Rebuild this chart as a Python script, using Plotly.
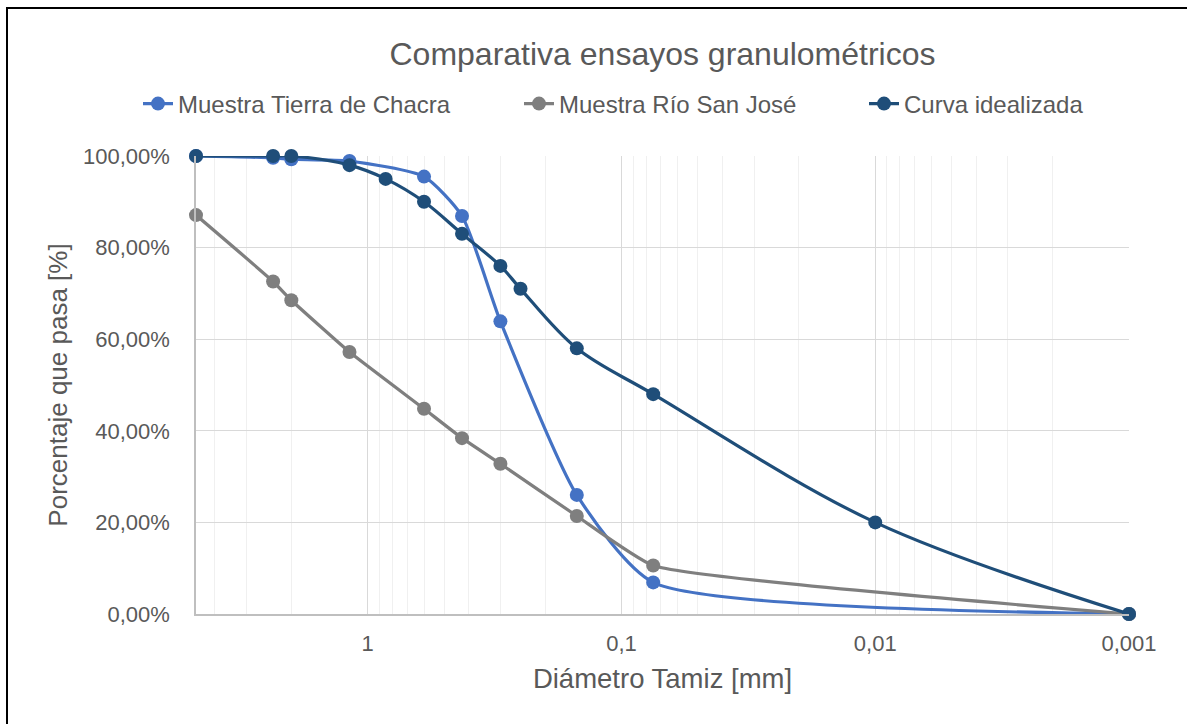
import plotly.graph_objects as go

# ---- data ----
sieve_tierra = [4.75, 2.36, 2.0, 1.18, 0.6, 0.425, 0.3, 0.15, 0.075, 0.001]
pasa_tierra = [100.0, 99.6, 99.3, 98.9, 95.5, 86.9, 63.9, 26.0, 6.9, 0.0]

sieve_rio = [4.75, 2.36, 2.0, 1.18, 0.6, 0.425, 0.3, 0.15, 0.075, 0.001]
pasa_rio = [87.1, 72.6, 68.5, 57.2, 44.8, 38.4, 32.8, 21.4, 10.6, 0.0]

sieve_curva = [4.75, 2.36, 2.0, 1.18, 0.85, 0.6, 0.425, 0.3, 0.25, 0.15, 0.075, 0.01, 0.001]
pasa_curva = [100.0, 100.0, 100.0, 98.0, 95.0, 90.0, 83.0, 76.0, 71.0, 58.0, 48.0, 20.0, 0.0]

series_names = ["Muestra Tierra de Chacra", "Muestra Río San José", "Curva idealizada"]
series_colors = ["#4472C4", "#7F7F7F", "#1F4E79"]
series_smoothing = [0.6, 0.4, 1.0]

x_tickvals = [1, 0.1, 0.01, 0.001]
x_ticktext = ["1", "0,1", "0,01", "0,001"]
y_tickvals = [0, 20, 40, 60, 80, 100]
y_ticktext = ["0,00%", "20,00%", "40,00%", "60,00%", "80,00%", "100,00%"]

minor_vals = [m * 10.0 ** e for e in [0, -1, -2, -3] for m in range(2, 10) if m * 10.0 ** e < 4.75]

FONT = "Liberation Sans, Arial, sans-serif"
TXT = "#595959"

W, H = 1187, 724
L, R, T, B = 196, 58, 156, 110
pw, ph = W - L - R, H - T - B

fig = go.Figure()
legend_ids = ["legend", "legend2", "legend3"]
for xs, ys, name, col, sm, lg in zip([sieve_tierra, sieve_rio, sieve_curva],
                                     [pasa_tierra, pasa_rio, pasa_curva],
                                     series_names, series_colors, series_smoothing, legend_ids):
    fig.add_trace(go.Scatter(
        x=xs, y=ys, name=name, mode="lines+markers",
        line=dict(color=col, width=3.2, shape="spline", smoothing=sm),
        marker=dict(color=col, size=14),
        cliponaxis=False, showlegend=True,
        legend=lg,
    ))

def lg(xpx):
    return dict(x=xpx / W, xref="container", xanchor="left",
                y=1 - 104 / H, yref="container", yanchor="middle",
                orientation="h", font=dict(family=FONT, size=24, color=TXT),
                bgcolor="rgba(0,0,0,0)")

fig.update_layout(
    width=W, height=H,
    margin=dict(l=L, r=R, t=T, b=B),
    paper_bgcolor="white", plot_bgcolor="white",
    showlegend=True,
    font=dict(family=FONT, color=TXT),
    title=dict(text="Comparativa ensayos granulométricos", x=0.5, xref="paper",
               xanchor="center", y=1 - 54 / H, yref="container", yanchor="middle",
               font=dict(family=FONT, size=32, color=TXT)),
    legend=lg(138), legend2=lg(519), legend3=lg(864),
    xaxis=dict(
        type="log", range=[0.6767, -3], autorange=False,
        tickmode="array", tickvals=x_tickvals, ticktext=x_ticktext,
        tickfont=dict(family=FONT, size=22, color=TXT),
        showgrid=True, gridcolor="#D9D9D9", gridwidth=1.3,
        minor=dict(tickmode="array", tickvals=minor_vals, showgrid=True,
                   gridcolor="#F0F0F0", gridwidth=1.3, ticks=""),
        showline=True, linecolor="#BFBFBF", linewidth=1.5,
        zeroline=False, ticks="", ticklabelstandoff=9,
        title=dict(text="Diámetro Tamiz [mm]", standoff=14,
                   font=dict(family=FONT, size=27.5, color=TXT)),
    ),
    yaxis=dict(
        range=[0, 100], autorange=False,
        tickmode="array", tickvals=y_tickvals, ticktext=y_ticktext,
        tickfont=dict(family=FONT, size=22, color=TXT),
        showgrid=True, gridcolor="#D9D9D9", gridwidth=1.3,
        showline=True, linecolor="#BFBFBF", linewidth=1.5,
        zeroline=False, ticks="", ticklabelstandoff=20,
        title=dict(text="Porcentaje que pasa [%]", standoff=8,
                   font=dict(family=FONT, size=26, color=TXT)),
    ),
    shapes=[dict(type="rect", xref="paper", yref="paper",
                 x0=(7 - L) / pw, x1=(1195 - L) / pw,
                 y0=(H - B - 735) / ph, y1=(H - B - 8) / ph,
                 line=dict(color="black", width=2), fillcolor="rgba(0,0,0,0)",
                 layer="above")],
)

fig.write_html("out.html")
